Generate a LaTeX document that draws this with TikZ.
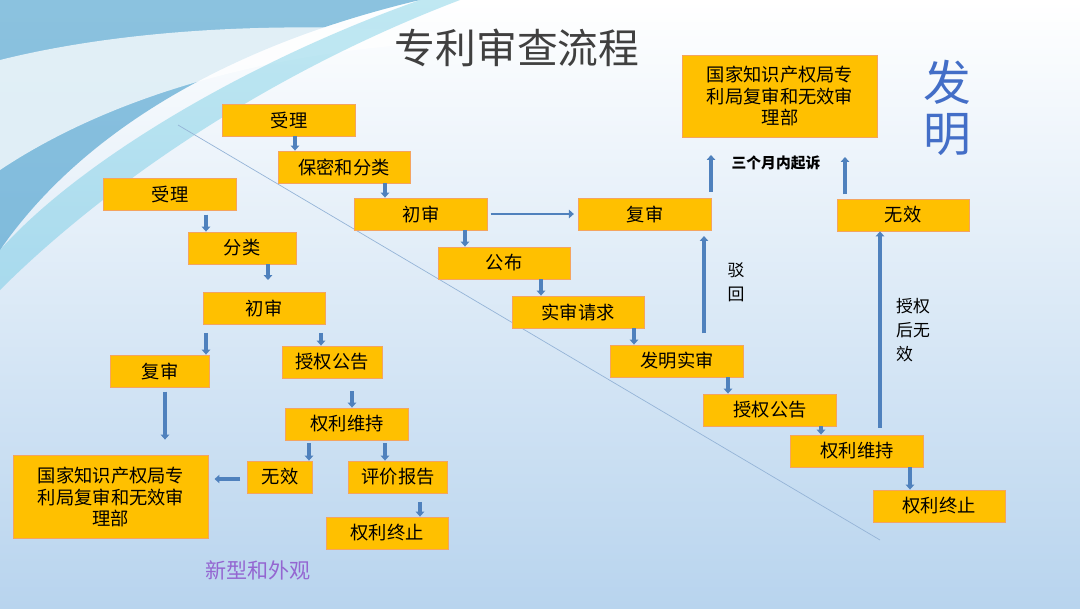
\documentclass[tikz,border=0pt]{standalone}
\usepackage{fontspec}
\newfontfamily\cjk{Noto Sans CJK SC}
\usetikzlibrary{arrows.meta}
\definecolor{boxfill}{HTML}{FFC000}
\definecolor{boxline}{HTML}{F4A460}
\definecolor{arrblue}{HTML}{4F81BD}
\definecolor{bgbot}{HTML}{B8D4EE}
\tikzset{
 bx/.style={draw=boxline,line width=0.6pt,fill=boxfill,minimum height=32*0.025cm,inner sep=1pt,font=\cjk\fontsize{13pt}{15pt}\selectfont,align=center},
 arr/.style={draw=arrblue,line width=2.6pt,-{Triangle[width=6pt,length=3.5pt]}},
}
\begin{document}
\begin{tikzpicture}[x=0.025cm,y=-0.025cm]
\useasboundingbox (0,0) rectangle (1080,608);
% background
\shade[top color=white,bottom color=bgbot] (0,0) rectangle (1080,608);
\fill[arrblue!80!cyan,opacity=0.6] (0,0) -- (420,0) .. controls (250,40) and (90,120) .. (0,250) -- cycle;
\fill[white,opacity=0.75] (0,60) .. controls (120,30) and (300,15) .. (520,40) .. controls (300,40) and (120,90) .. (0,170) -- cycle;
\fill[arrblue!60!cyan,opacity=0.3] (0,250) .. controls (80,160) and (250,60) .. (420,0) -- (460,0) .. controls (250,80) and (90,200) .. (0,290) -- cycle;
\draw[arrblue!60,line width=0.5pt] (178,125) -- (880,540);
% title
\node[font=\cjk\fontsize{29pt}{32pt}\selectfont,text=black!75] (title) at (517,48) {专利审查流程};
\node[font=\cjk\fontsize{34pt}{40pt}\selectfont,text=arrblue!85!blue,align=center] (fm) at (947,108) {发\\[-4pt]明};
\node[font=\cjk\fontsize{15pt}{18pt}\selectfont,text=blue!40!violet!60!white] (xx) at (258,570) {新型和外观};
% left nodes
\node[bx,minimum width=133*0.025cm] (a1) at (170,194) {受理};
\node[bx,minimum width=108*0.025cm] (a2) at (242,248) {分类};
\node[bx,minimum width=122*0.025cm] (a3) at (264,308) {初审};
\node[bx,minimum width=99*0.025cm] (a4) at (160,371) {复审};
\node[bx,minimum width=100*0.025cm] (a5) at (332,362) {授权公告};
\node[bx,minimum width=123*0.025cm] (a6) at (347,424) {权利维持};
\node[bx,minimum width=65*0.025cm] (a7) at (280,477) {无效};
\node[bx,minimum width=99*0.025cm] (a8) at (398,477) {评价报告};
\node[bx,minimum width=122*0.025cm] (a9) at (387,533) {权利终止};
\node[bx,minimum width=195*0.025cm,minimum height=83*0.025cm] (a10) at (111,497) {国家知识产权局专\\利局复审和无效审\\理部};
% right nodes
\node[bx,minimum width=133*0.025cm] (b1) at (289,120) {受理};
\node[bx,minimum width=132*0.025cm] (b2) at (344,167) {保密和分类};
\node[bx,minimum width=133*0.025cm] (b3) at (421,214) {初审};
\node[bx,minimum width=132*0.025cm] (b4) at (504,263) {公布};
\node[bx,minimum width=132*0.025cm] (b5) at (578,312) {实审请求};
\node[bx,minimum width=133*0.025cm] (b6) at (677,361) {发明实审};
\node[bx,minimum width=133*0.025cm] (b7) at (770,410) {授权公告};
\node[bx,minimum width=133*0.025cm] (b8) at (857,451) {权利维持};
\node[bx,minimum width=132*0.025cm] (b9) at (939,506) {权利终止};
\node[bx,minimum width=133*0.025cm] (b10) at (645,214) {复审};
\node[bx,minimum width=132*0.025cm] (b11) at (903,215) {无效};
\node[bx,minimum width=195*0.025cm,minimum height=82*0.025cm] (b12) at (780,96) {国家知识产权局专\\利局复审和无效审\\理部};
% labels
\node[font=\cjk\bfseries\fontsize{10.5pt}{12pt}\selectfont] (l1) at (776,163) {三个月内起诉};
\node[font=\cjk\fontsize{12pt}{17pt}\selectfont,align=center] (l2) at (736,282) {驳\\回};
\node[font=\cjk\fontsize{12pt}{17pt}\selectfont,align=left] (l3) at (913,330) {授权\\后无\\效};
% left arrows
\draw[arr,shorten <=3pt] (a1.south -| 206,0) -- (a2.north -| 206,0);
\draw[arr] (a2.south -| 268,0) -- (268,280);
\draw[arr,shorten <=6pt] (a3.south -| 206,0) -- (a4.north -| 206,0);
\draw[arr,shorten <=6pt] (a3.south -| 321,0) -- (a5.north -| 321,0);
\draw[arr,shorten <=9pt] (a5.south -| 352,0) -- (a6.north -| 352,0);
\draw[arr,shorten <=3pt,shorten >=11pt] (a4.south -| 165,0) -- (a10.north -| 165,0);
\draw[arr,shorten <=2pt] (a6.south -| 309,0) -- (a7.north -| 309,0);
\draw[arr,shorten <=2pt] (a6.south -| 385,0) -- (a8.north -| 385,0);
\draw[arr,shorten <=6pt] (a8.south -| 420,0) -- (a9.north -| 420,0);
\draw[arr,shorten <=5pt,shorten >=4pt] (a7.west |- 0,479) -- (a10.east |- 0,479);
% right arrows
\draw[arr] (b1.south -| 295,0) -- (b2.north -| 295,0);
\draw[arr] (b2.south -| 385,0) -- (b3.north -| 385,0);
\draw[arr] (b3.south -| 465,0) -- (b4.north -| 465,0);
\draw[arr] (b4.south -| 541,0) -- (b5.north -| 541,0);
\draw[arr] (b5.south -| 634,0) -- (b6.north -| 634,0);
\draw[arr,line width=1.6pt,shorten <=2pt,shorten >=3pt] (b3.east |- 0,214) -- (b10.west |- 0,214);
\draw[arr,shorten <=8pt,shorten >=4pt] (b6.north -| 704,0) -- (b10.south -| 704,0);
\draw[arr,shorten <=4pt] (b10.north -| 711,0) -- (711,155);
\draw[arr,shorten <=3pt] (b11.north -| 845,0) -- (845,157);
\draw[arr] (b6.south -| 728,0) -- (b7.north -| 728,0);
\draw[arr] (b7.south -| 821,0) -- (b8.north -| 821,0);
\draw[arr,shorten <=5pt] (b8.north -| 880,0) -- (b11.south -| 880,0);
\draw[arr] (b8.south -| 910,0) -- (b9.north -| 910,0);
\end{tikzpicture}
\end{document}
